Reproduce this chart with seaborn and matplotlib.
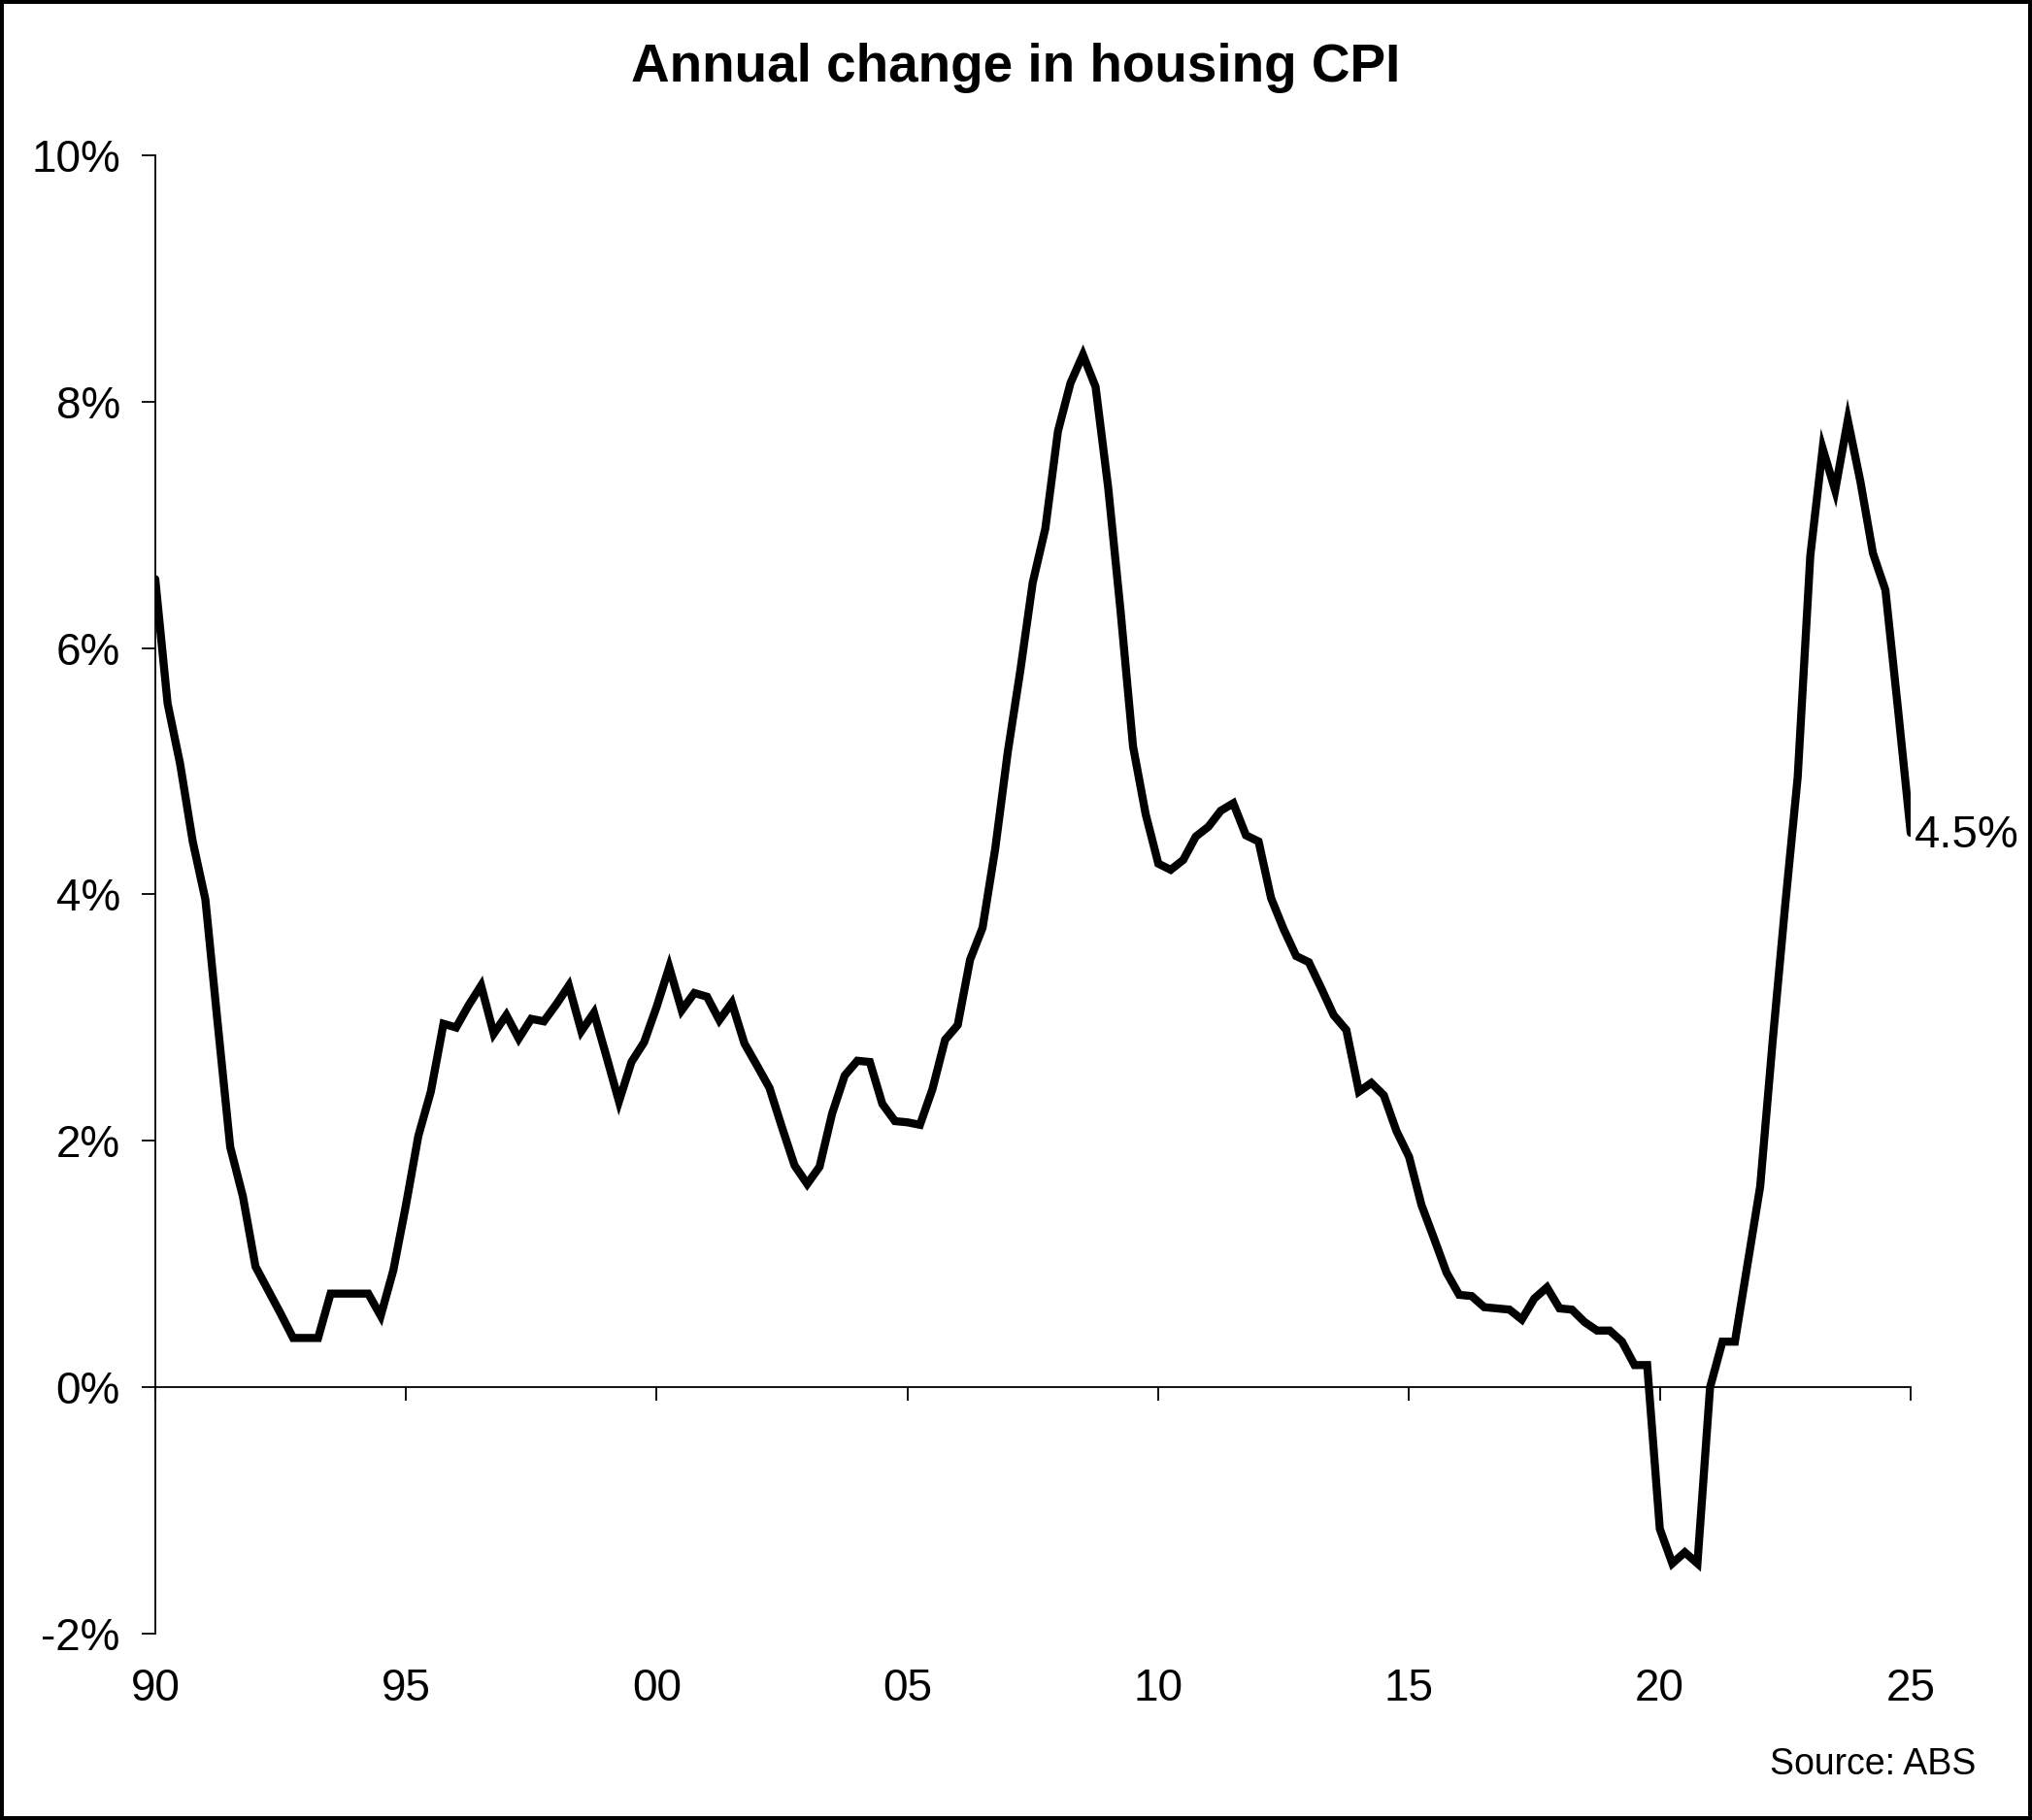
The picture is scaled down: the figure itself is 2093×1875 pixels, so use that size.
import matplotlib
matplotlib.use("Agg")
import matplotlib.pyplot as plt
import seaborn as sns
import pandas as pd

# Quarterly annual % change in housing CPI, 1990 Q1 .. 2025 Q1
values = [
    6.56, 5.55, 5.06, 4.43, 3.96, 2.95, 1.95, 1.55, 0.98, 0.79,
    0.60, 0.40, 0.40, 0.40, 0.76, 0.76, 0.76, 0.76, 0.58, 0.95,
    1.48, 2.04, 2.40, 2.95, 2.92, 3.10, 3.26, 2.87, 3.02, 2.83,
    2.99, 2.97, 3.11, 3.26, 2.89, 3.04, 2.68, 2.32, 2.64, 2.80,
    3.09, 3.41, 3.06, 3.20, 3.17, 2.98, 3.12, 2.79, 2.61, 2.43,
    2.11, 1.80, 1.65, 1.79, 2.22, 2.53, 2.65, 2.64, 2.30, 2.16,
    2.15, 2.13, 2.42, 2.82, 2.94, 3.47, 3.73, 4.37, 5.16, 5.81,
    6.53, 6.97, 7.76, 8.15, 8.38, 8.12, 7.30, 6.30, 5.20, 4.65,
    4.25, 4.20, 4.28, 4.47, 4.55, 4.68, 4.74, 4.48, 4.43, 3.97,
    3.72, 3.50, 3.45, 3.24, 3.02, 2.90, 2.40, 2.47, 2.37, 2.08,
    1.87, 1.48, 1.21, 0.93, 0.75, 0.74, 0.65, 0.64, 0.63, 0.55,
    0.72, 0.81, 0.64, 0.63, 0.53, 0.46, 0.46, 0.37, 0.18, 0.18,
    -1.15, -1.43, -1.34, -1.43, 0.00, 0.37, 0.37, 1.00, 1.63, 2.80,
    3.90, 4.95, 6.75, 7.62, 7.28, 7.85, 7.35, 6.77, 6.47, 5.50,
    4.50,
]
dates = pd.date_range("1990-01-01", periods=len(values), freq="QS")

tick_years = [1990, 1995, 2000, 2005, 2010, 2015, 2020, 2025]
tick_labels = ["90", "95", "00", "05", "10", "15", "20", "25"]
y_ticks = [-2, 0, 2, 4, 6, 8, 10]
y_labels = ["-2%", "0%", "2%", "4%", "6%", "8%", "10%"]
title = "Annual change in housing CPI"
source = "Source: ABS"
end_label = "4.5%"

df = pd.DataFrame({"date": dates, "value": values})

sns.set_style("white")
plt.rcParams["font.family"] = ["Liberation Sans", "DejaVu Sans"]
plt.rcParams["text.color"] = "black"
plt.rcParams["xtick.color"] = "black"
plt.rcParams["ytick.color"] = "black"
plt.rcParams["axes.edgecolor"] = "black"

fig = plt.figure(figsize=(20.93, 18.75), dpi=100)
fig.patch.set_facecolor("white")
fig.patch.set_edgecolor("black")
fig.patch.set_linewidth(4.5)

ax = fig.add_axes([0.0764, 0.1024, 0.8639, 0.8123])
sns.lineplot(data=df, x="date", y="value", ax=ax, color="black",
             linewidth=6, solid_joinstyle="miter")

tick_dates = [pd.Timestamp(f"{y}-01-01") for y in tick_years]
ax.set_xlim(tick_dates[0], tick_dates[-1])
ax.set_ylim(-2, 10)

# spines
for s in ["top", "right"]:
    ax.spines[s].set_visible(False)
ax.spines["left"].set_linewidth(1.3)
ax.spines["left"].set_color("black")
ax.spines["bottom"].set_position(("data", 0))
ax.spines["bottom"].set_linewidth(1.3)
ax.spines["bottom"].set_color("black")

ax.set_yticks(y_ticks)
ax.set_yticklabels(y_labels)
ax.tick_params(axis="y", direction="out", length=10, width=1.3,
               labelsize=33, pad=16, left=True, color="black",
               labelcolor="black")

ax.set_xticks(tick_dates)
ax.tick_params(axis="x", direction="out", length=10, width=1.3,
               labelbottom=False, bottom=True, color="black")

sec = ax.secondary_xaxis("bottom")
sec.set_xticks(tick_dates)
sec.set_xticklabels(tick_labels)
sec.tick_params(axis="x", length=0, labelsize=33, pad=25,
                labelcolor="black")
sec.spines["bottom"].set_visible(False)

ax.set_xlabel("")
ax.set_ylabel("")
ax.grid(False)

ax.annotate(end_label, xy=(dates[-1], values[-1]), xytext=(3, -2),
            textcoords="offset points", ha="left", va="center",
            fontsize=34, color="black")

fig.text(0.5, 0.9627, title, ha="center", va="center", fontsize=39.5,
         fontweight="bold", color="black")
fig.text(0.9727, 0.0304, source, ha="right", va="center", fontsize=27,
         color="black")

fig.savefig("out.png", dpi=100, facecolor="white", edgecolor="black")
